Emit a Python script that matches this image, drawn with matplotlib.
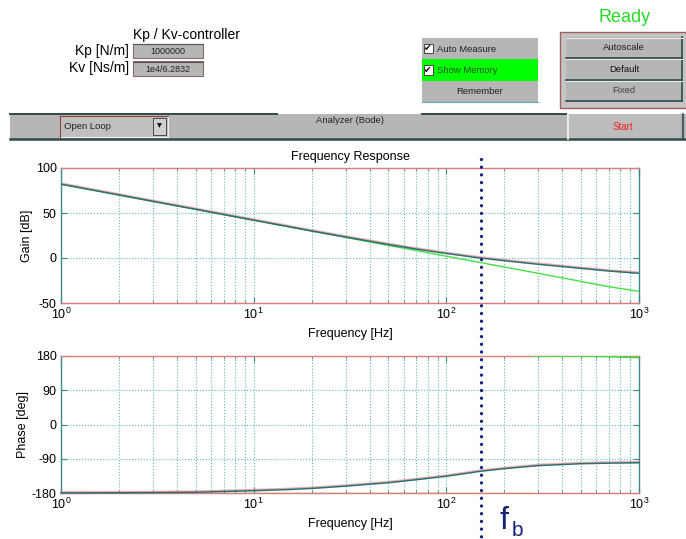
import matplotlib
matplotlib.use("Agg")
import matplotlib.pyplot as plt
import matplotlib.patches as mpatches
import matplotlib.transforms as mtransforms
import matplotlib.patheffects as pe
from matplotlib.lines import Line2D

plt.rcParams['font.family'] = ['Liberation Sans', 'DejaVu Sans']
plt.rcParams['mathtext.fontset'] = 'custom'
plt.rcParams['mathtext.rm'] = 'Liberation Sans'
plt.rcParams['mathtext.it'] = 'Liberation Sans:italic'
plt.rcParams['axes.unicode_minus'] = False

# ---------------- data ----------------
freq = [1, 2, 3, 5, 7, 10, 15, 20, 30, 50, 70, 100, 150, 200, 300, 500, 700, 1000]
gain_now = [82, 70, 62.9, 54.1, 48.2, 42, 35, 30, 23.3, 15, 9.9, 5, 0, -3, -7, -11.5, -14.5, -17]
gain_mem = [82, 70, 62.9, 54.1, 48.2, 42, 35, 30, 22.9, 14, 8.2, 2, -5, -10, -17, -26, -32, -37]
phase_now = [-180, -179.5, -179, -178, -176, -174, -171, -168, -162, -153, -145, -136,
             -123, -116, -108, -103, -101.5, -100.5]
freq_mem_lo = [1, 280]
phase_mem_lo = [-180, -180]
freq_mem_hi = [280, 600, 830, 1000]
phase_mem_hi = [180, 179.5, 177, 176]
f_b = 151

gain_ticks = [-50, 0, 50, 100]
phase_ticks = [-180, -90, 0, 90, 180]

# ---------------- figure ----------------
W, H = 686, 539
fig = plt.figure(figsize=(W / 100, H / 100), dpi=100)
fig.patch.set_facecolor('white')


def fx(x):
    return x / W


def fy(y):
    return 1 - y / H


def rect(x0, y0, x1, y1, fc, ec='none', lw=0.8, z=1):
    r = mpatches.Rectangle((fx(x0), fy(y1)), fx(x1) - fx(x0), fy(y0) - fy(y1),
                           transform=fig.transFigure, facecolor=fc, edgecolor=ec,
                           linewidth=lw, zorder=z)
    fig.add_artist(r)
    return r


def hline(x0, x1, y, c, lw=1.0, z=3):
    fig.add_artist(Line2D([fx(x0), fx(x1)], [fy(y), fy(y)], transform=fig.transFigure,
                          color=c, lw=lw, zorder=z))


def vline(x, y0, y1, c, lw=1.0, z=3):
    fig.add_artist(Line2D([fx(x), fx(x)], [fy(y0), fy(y1)], transform=fig.transFigure,
                          color=c, lw=lw, zorder=z))


def txt(x, y, s, size=7, color='black', ha='left', va='center', **kw):
    fig.text(fx(x), fy(y), s, fontsize=size, color=color, ha=ha, va=va, **kw)


GRAY = '#b6b6b6'
DARK = '#2f4a4a'

# ---- controller parameter block ----
txt(133, 35, 'Kp / Kv-controller', size=10)
txt(129, 51, 'Kp [N/m]', size=10, ha='right')
txt(129, 68, 'Kv [Ns/m]', size=10, ha='right')
rect(133, 44, 203, 58, GRAY, '#8a6a6a', 0.8)
hline(133, 203, 44.5, '#555555', 0.8)
txt(168, 51.5, '1000000', size=6.5, ha='center', color='#222222')
rect(133, 61, 203, 76, GRAY, '#8a6a6a', 0.8)
hline(133, 203, 61.5, '#555555', 0.8)
txt(168, 69, '1e4/6.2832', size=6.5, ha='center', color='#222222')

# ---- checkbox panel ----
rect(422, 38, 538, 59, GRAY)
rect(422, 59, 538, 81, '#00ff00')
rect(422, 81, 538, 102, GRAY)
hline(422, 538, 102, '#66aaaa', 0.8)
for yy in (48.5, 70):
    rect(423.5, yy - 4.5, 432.5, yy + 4.5, 'white', '#444444', 0.7, z=4)
    fig.text(fx(428), fy(yy), '\u2714', fontsize=6.5, ha='center', va='center',
             family='DejaVu Sans', color='black', zorder=5)
txt(437, 49, 'Auto Measure', size=6.8, color='#222222')
txt(437, 70.5, 'Show Memory', size=6.8, color='#225522')
txt(480, 91.5, 'Remember', size=6.8, ha='center', color='#222222')

# ---- status / scale buttons ----
txt(625, 18, 'Ready', size=13, ha='center', color='#22dd22')
rect(559.5, 32.5, 700, 108, '#c4c4c4', '#a06060', 1.0)
for (y0, y1, lab, col) in [(37, 58, 'Autoscale', '#222222'),
                           (58, 80, 'Default', '#111111'),
                           (80, 101, 'Fixed', '#444444')]:
    rect(566, y0, 682, y1, GRAY, z=2)
    hline(566, 682, y1, DARK, 1.2)
    vline(682, y0, y1, DARK, 1.2)
    hline(566, 682, y0 + 0.5, '#eeeeee', 0.7)
    txt(624, (y0 + y1) / 2 + 0.5, lab, size=6.8, ha='center', color=col)

# ---- toolbar ----
rect(10, 114, 686, 139.5, GRAY)
hline(10, 277, 114.3, DARK, 1.4)
hline(422, 566, 114.3, DARK, 1.4)
hline(10, 686, 139.3, DARK, 1.8)
vline(682.5, 114, 139, DARK, 1.2)
rect(567, 114, 680, 139, '#bcbcbc', z=2)
vline(567.5, 114, 139, '#f4f4f4', 1.2)
txt(623, 127.5, 'Start', size=7, ha='center', color='#ee2222')
rect(60, 116, 168, 136.5, '#c0c0c0', '#eeeeee', 0.8)
hline(60, 168, 116.3, '#904040', 0.8)
vline(60.3, 116, 136.5, '#904040', 0.8)
rect(153, 118, 166, 134.5, '#d0d0d0', '#333333', 0.6, z=2)
fig.text(fx(159.5), fy(126), '\u25bc', fontsize=4.5, ha='center', va='center',
         family='DejaVu Sans', zorder=5)
txt(64, 126.5, 'Open Loop', size=6.8, color='#222222')
txt(350, 120.5, 'Analyzer (Bode)', size=6.8, ha='center', color='#222222')

# ---------------- Bode axes ----------------
ax1 = fig.add_axes([fx(61), fy(303), fx(639) - fx(61), fy(168) - fy(303)])
ax2 = fig.add_axes([fx(61), fy(493), fx(639) - fx(61), fy(356) - fy(493)])

LINE = '#2c6f72'
MEM = '#44e044'
shadow = [pe.SimpleLineShadow(offset=(0, 0.8), shadow_color='#e06666', alpha=0.55),
          pe.Normal()]

for ax in (ax1, ax2):
    ax.set_xscale('log')
    ax.set_xlim(1, 1000)
    ax.grid(True, which='both', axis='x', color='#66b8b8', linestyle=':', linewidth=0.8)
    ax.grid(True, which='major', axis='y', color='#66b8b8', linestyle=':', linewidth=0.8)
    ax.tick_params(which='both', direction='in', top=True, right=True,
                   labelsize=9, colors='#3c8c8c', labelcolor='black', pad=3)
    ax.tick_params(which='major', length=4)
    ax.tick_params(which='minor', length=2.5)
    ax.spines['top'].set_color('#e07a7a')
    ax.spines['bottom'].set_color('#e07a7a')
    ax.spines['left'].set_color('#3c8c8c')
    ax.spines['right'].set_color('#3c8c8c')
    for s in ax.spines.values():
        s.set_linewidth(1.0)
    ax.set_xlabel('Frequency [Hz]', fontsize=9, labelpad=4)

ax1.plot(freq, gain_mem, color=MEM, lw=1.0, zorder=3)
ax1.plot(freq, gain_now, color=LINE, lw=1.1, zorder=4, path_effects=shadow)
ax1.set_ylim(-50, 100)
ax1.set_yticks(gain_ticks)
ax1.set_ylabel('Gain [dB]', fontsize=9, labelpad=2)
ax1.set_title('Frequency Response', fontsize=9, pad=6)

ax2.plot(freq_mem_lo, phase_mem_lo, color=MEM, lw=1.0, zorder=1)
ax2.plot(freq_mem_hi, phase_mem_hi, color=MEM, lw=1.2, zorder=3)
ax2.plot(freq, phase_now, color=LINE, lw=1.1, zorder=4, path_effects=shadow, clip_on=False)
ax2.set_ylim(-180, 180)
ax2.set_yticks(phase_ticks)
ax2.set_ylabel('Phase [deg]', fontsize=9, labelpad=2)

# ---- bandwidth marker ----
blend = mtransforms.blended_transform_factory(ax1.transData, fig.transFigure)
fb_line = Line2D([f_b, f_b], [fy(159), 0.0], transform=blend, color='#14237a',
                 lw=2.4, linestyle=(0, (0.01, 2.3)), dash_capstyle='round', zorder=10)
fig.add_artist(fb_line)
off_f = mtransforms.offset_copy(blend, fig=fig, x=19, y=0, units='dots')
off_b = mtransforms.offset_copy(blend, fig=fig, x=31, y=0, units='dots')
fig.text(f_b, fy(529), 'f', transform=off_f, fontsize=23, color='#14237a',
         ha='left', va='baseline')
fig.text(f_b, fy(536), 'b', transform=off_b, fontsize=15, color='#14237a',
         ha='left', va='baseline')

fig.savefig('out.png', dpi=100)
